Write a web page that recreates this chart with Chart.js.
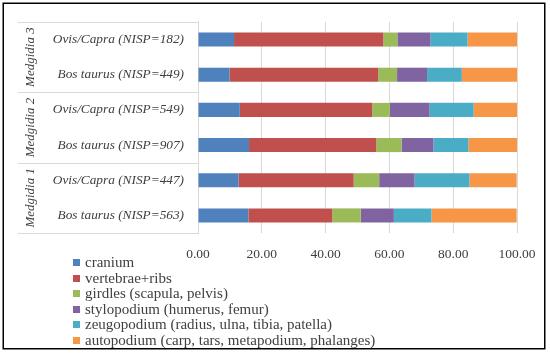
<!DOCTYPE html>
<html>
<head>
<meta charset="utf-8">
<script src="https://cdn.jsdelivr.net/npm/chart.js@4.4.1/dist/chart.umd.min.js"></script>
<style>
  html, body { margin: 0; padding: 0; background: #fff; }
  #wrap { position: relative; width: 550px; height: 353px; }
  #legend { position: absolute; left: 73px; top: 255px; font-family: "Liberation Serif", serif; font-size: 15px; color: #404040; }
  .li { height: 15.5px; line-height: 15.5px; white-space: nowrap; display: flex; align-items: center; }
  .sw { width: 7px; height: 7px; margin-right: 5px; display: inline-block; }
</style>
</head>
<body>
<div id="wrap">
  <canvas id="c" width="550" height="353"></canvas>
  <div id="legend"></div>
</div>
<script>
// ---- data (top to bottom) ----
const groups = ["Medgidia 3", "Medgidia 2", "Medgidia 1"];
const groupSizes = [2, 2, 2];
const categories = [
  "Ovis/Capra (NISP=182)", "Bos taurus (NISP=449)",
  "Ovis/Capra (NISP=549)", "Bos taurus (NISP=907)",
  "Ovis/Capra (NISP=447)", "Bos taurus (NISP=563)"
];
const seriesNames = [
  "cranium",
  "vertebrae+ribs",
  "girdles (scapula, pelvis)",
  "stylopodium (humerus, femur)",
  "zeugopodium (radius, ulna, tibia, patella)",
  "autopodium (carp, tars, metapodium, phalanges)"
];
const cranium     = [11.3,  9.9, 13.1, 16.0, 12.7, 15.8];
const vertebrae   = [46.8, 46.6, 41.5, 39.9, 36.1, 26.3];
const girdles     = [ 4.4,  5.9,  5.5,  7.9,  8.0,  8.9];
const stylopodium = [10.4,  9.4, 12.5, 10.0, 11.1, 10.4];
const zeugopodium = [11.6, 10.9, 13.8, 11.0, 17.2, 11.8];
const autopodium  = [15.5, 17.3, 13.6, 15.2, 14.8, 26.7];
const xTicks = [0, 20, 40, 60, 80, 100];

const seriesValues = [cranium, vertebrae, girdles, stylopodium, zeugopodium, autopodium];
const colors = ["#4F81BD", "#C0504D", "#9BBB59", "#8064A2", "#4BACC6", "#F79646"];

const SERIF = '"Liberation Serif", serif';
const TEXT = "#404040";

const groupPlugin = {
  id: "groups",
  beforeDraw(chart) {
    const ctx = chart.ctx;
    ctx.save();
    ctx.fillStyle = "#fff";
    ctx.fillRect(0, 0, chart.width, chart.height);
    ctx.restore();
  },
  afterDraw(chart) {
    const ctx = chart.ctx;
    const ys = chart.scales.y;
    const area = chart.chartArea;
    const step = ys.getPixelForTick(1) - ys.getPixelForTick(0);
    ctx.save();
    ctx.strokeStyle = "#D9D9D9";
    ctx.lineWidth = 1;
    let idx = 0;
    const bounds = [];
    for (let g = 0; g < groups.length; g++) {
      const top = ys.getPixelForTick(idx) - step / 2;
      const bot = ys.getPixelForTick(idx + groupSizes[g] - 1) + step / 2;
      bounds.push([top, bot]);
      idx += groupSizes[g];
    }
    const lines = [bounds[0][0]].concat(bounds.map(b => b[1]));
    lines.forEach(y => {
      const yy = Math.round(y) + 0.5;
      ctx.beginPath();
      ctx.moveTo(18, yy);
      ctx.lineTo(area.left, yy);
      ctx.stroke();
    });
    ctx.fillStyle = TEXT;
    ctx.font = "italic 13px " + SERIF;
    ctx.textAlign = "center";
    ctx.textBaseline = "middle";
    bounds.forEach((b, g) => {
      ctx.save();
      ctx.translate(31, (b[0] + b[1]) / 2);
      ctx.rotate(-Math.PI / 2);
      ctx.fillText(groups[g], 0, 0);
      ctx.restore();
    });
    // outer frame
    ctx.strokeStyle = "#000";
    ctx.lineWidth = 1.5;
    ctx.strokeRect(3.25, 3.25, 541.5, 345.5);
    ctx.restore();
  }
};

new Chart(document.getElementById("c"), {
  type: "bar",
  data: {
    labels: categories,
    datasets: seriesValues.map((v, i) => ({
      label: seriesNames[i],
      data: v,
      backgroundColor: colors[i],
      borderWidth: 0,
      categoryPercentage: 1,
      barPercentage: 0.4
    }))
  },
  options: {
    indexAxis: "y",
    responsive: false,
    animation: false,
    devicePixelRatio: 1,
    layout: { padding: { left: 0, right: 33, top: 8, bottom: 0 } },
    plugins: { legend: { display: false }, tooltip: { enabled: false } },
    scales: {
      x: {
        stacked: true,
        min: 0, max: 100,
        afterBuildTicks(scale) { scale.ticks = xTicks.map(v => ({ value: v })); },
        afterFit(scale) { scale.height = 120; },
        grid: { color: "#D9D9D9", drawTicks: false },
        border: { display: false },
        ticks: {
          padding: 13,
          color: TEXT,
          font: { family: SERIF, size: 13.5 },
          callback: v => Number(v).toFixed(2)
        }
      },
      y: {
        stacked: true,
        afterFit(scale) { scale.width = 198; },
        grid: { display: false, drawTicks: false },
        border: { display: true, color: "#D9D9D9" },
        ticks: {
          padding: 14,
          color: TEXT,
          font: { family: SERIF, size: 13.3, style: "italic" }
        }
      }
    }
  },
  plugins: [groupPlugin]
});

// legend (HTML)
const leg = document.getElementById("legend");
seriesNames.forEach((n, i) => {
  const d = document.createElement("div");
  d.className = "li";
  const s = document.createElement("span");
  s.className = "sw";
  s.style.background = colors[i];
  d.appendChild(s);
  d.appendChild(document.createTextNode(n));
  leg.appendChild(d);
});
</script>
</body>
</html>
